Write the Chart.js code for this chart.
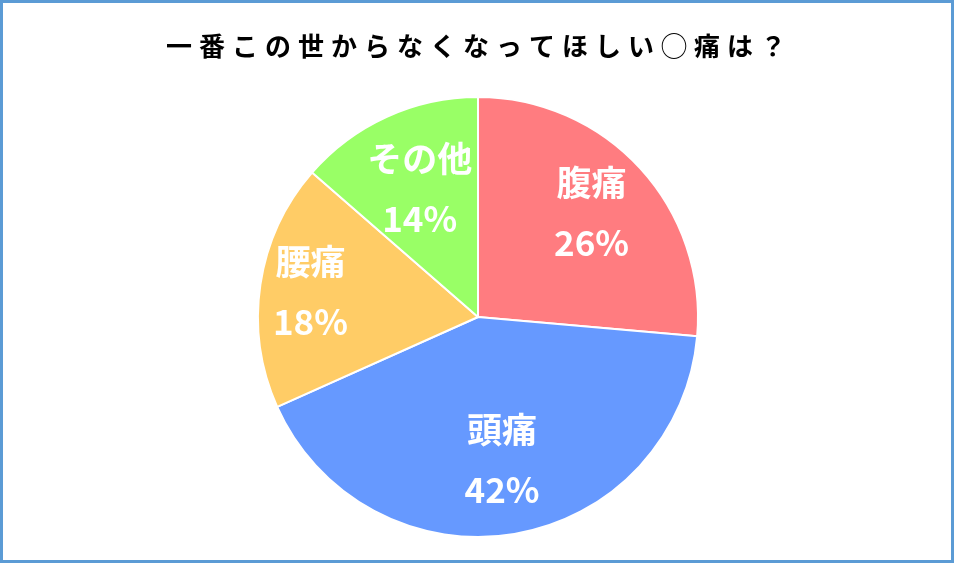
<!DOCTYPE html>
<html><head><meta charset="utf-8">
<script src="https://cdn.jsdelivr.net/npm/chart.js@4.4.1/dist/chart.umd.min.js"></script>
<style>html,body{margin:0;padding:0;background:#fff}#wrap{width:954px;height:563px;position:relative}</style>
</head><body><div id="wrap"><canvas id="c" width="954" height="563"></canvas></div>
<script>
const titleText = '一番この世からなくなってほしい◯痛は？';
const categories = ['腹痛', '頭痛', '腰痛', 'その他'];
const values = [26.4, 41.9, 18.1, 13.6];
const colors = ['#FF7C80', '#6699FF', '#FFCC66', '#99FF66'];
const labelRadius = [0.70, 0.66, 0.77, 0.64];

const framePlugin = {
  id: 'frame',
  afterDraw(chart) {
    const ctx = chart.ctx;
    ctx.save();
    ctx.strokeStyle = '#5B9BD5';
    ctx.lineWidth = 3;
    ctx.strokeRect(1.5, 1.5, chart.width - 3, chart.height - 3);
    ctx.fillStyle = '#000';
    ctx.font = 'bold 26px "Noto Sans CJK JP"';
    ctx.letterSpacing = '7px';
    ctx.textAlign = 'center';
    ctx.textBaseline = 'middle';
    ctx.fillText(titleText, 476 + 3.5, 46);
    ctx.restore();
  }
};

const labelPlugin = {
  id: 'sliceLabels',
  afterDatasetsDraw(chart) {
    const ctx = chart.ctx;
    const meta = chart.getDatasetMeta(0);
    const total = values.reduce((a, b) => a + b, 0);
    ctx.save();
    ctx.fillStyle = '#fff';
    ctx.font = 'bold 35px "Noto Sans CJK JP"';
    ctx.textAlign = 'center';
    ctx.textBaseline = 'middle';
    meta.data.forEach((arc, i) => {
      const p = arc.getProps(['x', 'y', 'startAngle', 'endAngle', 'outerRadius'], true);
      const mid = (p.startAngle + p.endAngle) / 2;
      const r = p.outerRadius * labelRadius[i];
      const cx = p.x + Math.cos(mid) * r;
      const cy = p.y + Math.sin(mid) * r;
      ctx.fillText(categories[i], cx, cy - 30);
      ctx.fillText(Math.round(values[i] / total * 100) + '%', cx, cy + 30);
    });
    ctx.restore();
  }
};

new Chart(document.getElementById('c'), {
  type: 'pie',
  data: {
    labels: categories,
    datasets: [{
      data: values,
      backgroundColor: colors,
      borderColor: '#fff',
      borderWidth: 2
    }]
  },
  options: {
    responsive: false,
    animation: false,
    layout: { padding: { top: 96, bottom: 25, left: 2, right: 0 } },
    plugins: { legend: { display: false }, tooltip: { enabled: false }, title: { display: false } }
  },
  plugins: [labelPlugin, framePlugin]
});
</script></body></html>
